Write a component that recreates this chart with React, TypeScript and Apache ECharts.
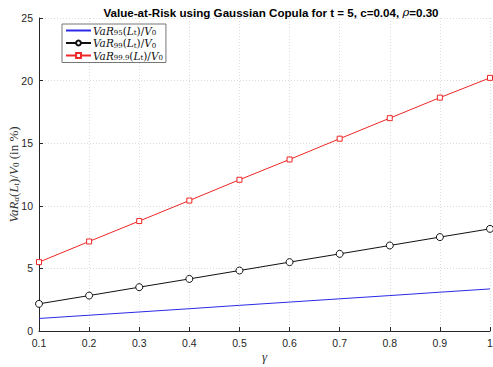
import React, { useEffect, useRef } from "react";
import * as echarts from "echarts";

const gamma = [0.1, 0.2, 0.3, 0.4, 0.5, 0.6, 0.7, 0.8, 0.9, 1.0];
const var95 = [1.0, 1.26, 1.52, 1.78, 2.05, 2.31, 2.57, 2.83, 3.1, 3.36];
const var99 = [2.17, 2.83, 3.5, 4.16, 4.83, 5.5, 6.16, 6.83, 7.5, 8.16];
const var999 = [5.5, 7.15, 8.78, 10.42, 12.08, 13.7, 15.36, 17.0, 18.64, 20.22];
const seriesNames = ["var95", "var99", "var999"];
const subs = ["95", "99", "99.9"];

const serif = "'DejaVu Serif', 'Liberation Serif', serif";
const lserif = "'Liberation Serif', 'DejaVu Serif', serif";
const sans = "'Liberation Sans', Arial, sans-serif";

export default function App() {
  const ref = useRef<HTMLDivElement>(null);
  useEffect(() => {
    const chart = echarts.init(ref.current!, null, { renderer: "svg" });
    const mathRich = {
      i: { fontFamily: serif, fontStyle: "italic", fontSize: 10.5, color: "#111" },
      n: { fontFamily: serif, fontSize: 10.5, color: "#111" },
      s: { fontFamily: serif, fontSize: 7, color: "#111", padding: [5, 0, 0, 0] },
    };
    const pairs = (arr: number[]) => gamma.map((g, k) => [g, arr[k]]);
    chart.setOption({
      animation: false,
      title: {
        text: "Value-at-Risk using Gaussian Copula for t = 5, c=0.04, {r|ρ}=0.30",
        left: 266,
        textAlign: "center",
        top: 1,
        textStyle: {
          fontFamily: sans,
          fontWeight: "bold",
          fontSize: 11.6,
          color: "#000",
          rich: {
            r: { fontFamily: serif, fontStyle: "italic", fontSize: 11.6, fontWeight: "normal", color: "#000" },
          },
        },
      },
      legend: {
        left: 62,
        top: 24,
        orient: "vertical",
        itemGap: 1,
        itemWidth: 25,
        itemHeight: 6,
        padding: [1, 3, 1, 3],
        borderColor: "#777",
        borderWidth: 1,
        backgroundColor: "#fff",
        data: [
          { name: "var95", itemStyle: { opacity: 0 } },
          { name: "var99" },
          { name: "var999" },
        ],
        formatter: (name: string) => {
          const k = seriesNames.indexOf(name);
          return `{i|VaR}{s|${subs[k]}}{n|(}{i|L}{s|t}{n|)/}{i|V}{s|0}`;
        },
        textStyle: { rich: mathRich, padding: [0, 0, 0, -3] },
      },
      grid: { left: 39, right: 3, top: 18, bottom: 36, outerBoundsMode: "none", containLabel: false },
      xAxis: {
        type: "value",
        min: 0.1,
        max: 1,
        interval: 0.1,
        name: "{g|γ}",
        nameLocation: "middle",
        nameGap: 19,
        nameMoveOverlap: false,
        nameTextStyle: { rich: { g: { fontFamily: lserif, fontStyle: "italic", fontSize: 13, color: "#333" } } },
        axisLine: { lineStyle: { color: "#262626", width: 1 } },
        axisTick: { inside: true, length: 4, lineStyle: { color: "#262626" } },
        axisLabel: {
          color: "#262626",
          fontFamily: sans,
          fontSize: 10.5,
          margin: 6,
          formatter: (v: number) => String(+v.toFixed(1)),
        },
        splitLine: { show: true, lineStyle: { color: "#dcdcdc", type: [1, 2], width: 1 } },
      },
      yAxis: {
        type: "value",
        min: 0,
        max: 25,
        interval: 5,
        name: "{i|VaR}{s|α}{n|(}{i|L}{s|t}{n|)/}{i|V}{s|0}{n| (in %)}",
        nameLocation: "middle",
        nameRotate: 90,
        nameGap: 19,
        nameMoveOverlap: false,
        nameTextStyle: {
          rich: {
            i: { fontFamily: lserif, fontStyle: "italic", fontSize: 13, color: "#333" },
            n: { fontFamily: lserif, fontSize: 13, color: "#333" },
            s: { fontFamily: lserif, fontSize: 9, color: "#333", padding: [5, 0, 0, 0] },
          },
        },
        axisLine: { show: true, lineStyle: { color: "#262626", width: 1 } },
        axisTick: { show: true, inside: true, length: 4, lineStyle: { color: "#262626" } },
        axisLabel: { color: "#262626", fontFamily: sans, fontSize: 10.5, margin: 6 },
        splitLine: { show: true, lineStyle: { color: "#dcdcdc", type: [1, 2], width: 1 } },
      },
      series: [
        {
          name: "var95",
          type: "line",
          data: pairs(var95),
          symbol: "none",
          lineStyle: { color: "#2a2ae6", width: 1 },
          itemStyle: { color: "#2a2ae6" },
        },
        {
          name: "var99",
          type: "line",
          data: pairs(var99),
          symbol: "circle",
          symbolSize: 7,
          lineStyle: { color: "#111", width: 1 },
          itemStyle: { color: "#fff", borderColor: "#111", borderWidth: 1 },
        },
        {
          name: "var999",
          type: "line",
          data: pairs(var999),
          symbol: "rect",
          symbolSize: 5,
          lineStyle: { color: "#ee2626", width: 1 },
          itemStyle: { color: "#fff", borderColor: "#ee2626", borderWidth: 1 },
        },
      ],
    });
    return () => chart.dispose();
  }, []);
  return (
    <div
      ref={ref}
      style={{ position: "absolute", left: 0, top: 0, width: 493, height: 367, background: "#fff" }}
    />
  );
}
